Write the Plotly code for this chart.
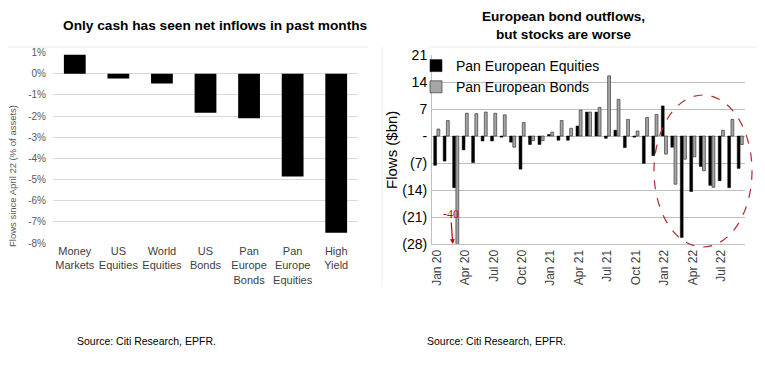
import plotly.graph_objects as go

W, H = 765, 367
OFF = 8  # page body offset applied by the browser

# ---------------- data ----------------
left_categories = ["Money<br>Markets", "US<br>Equities", "World<br>Equities", "US<br>Bonds",
                   "Pan<br>Europe<br>Bonds", "Pan<br>Europe<br>Equities", "High<br>Yield"]
left_values = [0.9, -0.22, -0.46, -1.84, -2.1, -4.85, -7.52]
left_tickvals = [1, 0, -1, -2, -3, -4, -5, -6, -7, -8]
left_ticktext = ["1%", "0%", "-1%", "-2%", "-3%", "-4%", "-5%", "-6%", "-7%", "-8%"]

months = ["Jan 20", "Feb 20", "Mar 20", "Apr 20", "May 20", "Jun 20", "Jul 20", "Aug 20",
          "Sep 20", "Oct 20", "Nov 20", "Dec 20", "Jan 21", "Feb 21", "Mar 21", "Apr 21",
          "May 21", "Jun 21", "Jul 21", "Aug 21", "Sep 21", "Oct 21", "Nov 21", "Dec 21",
          "Jan 22", "Feb 22", "Mar 22", "Apr 22", "May 22", "Jun 22", "Jul 22", "Aug 22",
          "Sep 22"]
equities = [-7.6, -6.5, -13.4, -3.6, -6.9, -1.3, -1.3, -0.3,
            -1.6, -8.6, -2.2, -2.2, 0.4, -1.1, -1.1, 2.6,
            6.2, 6.2, -0.6, 1.5, -3.0, -0.3, -7.1, -5.1,
            7.8, -2.9, -26.3, -14.4, -7.9, -12.8, -11.6, -13.4,
            -8.4]
bonds = [1.8, 4.0, -40.0, 5.9, 5.8, 6.2, 5.9, 5.5,
         -2.9, 3.5, -1.2, -1.2, 1.0, 4.0, 2.0, 6.7,
         6.2, 7.4, 15.6, 9.5, 4.3, 1.3, 4.8, 5.6,
         -4.7, -12.5, -6.0, -5.4, -9.0, -13.3, 1.5, 4.3,
         -2.2]
right_tickvals = [21, 14, 7, 0, -7, -14, -21, -28]
right_ticktext = ["21", "14", "7", "-", "(7)", "(14)", "(21)", "(28)"]
month_ticks = months[::3]

ARIAL = "Liberation Sans, Arial, sans-serif"


def px_x(p):
    return (p - OFF) / W


def px_y(p):
    return 1 - (p - OFF) / H


fig = go.Figure()

fig.add_trace(go.Bar(x=left_categories, y=left_values, width=0.5,
                     marker=dict(color="#000000", line=dict(width=0)),
                     showlegend=False, xaxis="x", yaxis="y"))

fig.add_trace(go.Bar(x=months, y=equities, name="Pan European Equities",
                     marker=dict(color="#000000", line=dict(color="#000000", width=0.5)),
                     legendgroup="eq", xaxis="x2", yaxis="y2"))
fig.add_trace(go.Bar(x=months, y=bonds, name="Pan European Bonds",
                     marker=dict(color="#a6a6a6", line=dict(color="#3a3a3a", width=0.7)),
                     legendgroup="bd", xaxis="x2", yaxis="y2"))

fig.update_layout(
    template="none",
    width=W, height=H, autosize=False,
    margin=dict(l=0, r=0, t=0, b=0, pad=0, autoexpand=False),
    paper_bgcolor="white", plot_bgcolor="white",
    barmode="group", bargap=0.32, bargroupgap=0.12,
    showlegend=True,
    legend=dict(x=px_x(416), y=px_y(50), xanchor="left", yanchor="top",
                bgcolor="rgba(0,0,0,0)", font=dict(family=ARIAL, size=14, color="#000000"),
                tracegroupgap=3, traceorder="normal"),
    xaxis=dict(domain=[px_x(53), px_x(358)], type="category", showgrid=False,
               showline=False, ticks="", zeroline=False, automargin=False,
               ticklabelstandoff=0,
               tickfont=dict(family=ARIAL, size=11, color="#404040")),
    yaxis=dict(domain=[px_y(243), px_y(52.7)], range=[-8, 1], tickvals=left_tickvals,
               ticktext=left_ticktext, showgrid=True, gridcolor="#d9d9d9", gridwidth=1,
               zeroline=False, showline=False, ticks="", ticklabelstandoff=6, automargin=False,
               tickfont=dict(family=ARIAL, size=10, color="#595959")),
    xaxis2=dict(domain=[px_x(432), px_x(745)], type="category", anchor="y2",
                tickvals=month_ticks, ticktext=month_ticks, tickangle=-90,
                showgrid=False, showline=True, linecolor="#bfbfbf", ticks="", automargin=False,
                tickfont=dict(family=ARIAL, size=12, color="#404040")),
    yaxis2=dict(domain=[px_y(244), px_y(55)], range=[-28, 21], anchor="x2",
                tickvals=right_tickvals, ticktext=right_ticktext,
                showgrid=True, gridcolor="#bfbfbf", gridwidth=1, zeroline=False,
                showline=True, linecolor="#bfbfbf", ticks="", ticklabelstandoff=1, automargin=False,
                tickfont=dict(family=ARIAL, size=14, color="#000000")),
)

annotations = [
    dict(text="<b>Only cash has seen net inflows in past months</b>", x=px_x(216), y=px_y(25),
         font=dict(family=ARIAL, size=13.7, color="#000000")),
    dict(text="<b>European bond outflows,<br>but stocks are worse</b>", x=px_x(563), y=px_y(25),
         font=dict(family=ARIAL, size=13.6, color="#000000")),
    dict(text="Flows since April 22 (% of assets)", x=px_x(12), y=px_y(176), textangle=-90,
         font=dict(family=ARIAL, size=9.5, color="#595959")),
    dict(text="Flows ($bn)", x=px_x(392), y=px_y(150), textangle=-90,
         font=dict(family=ARIAL, size=15, color="#000000")),
    dict(text="Source: Citi Research, EPFR.", x=px_x(75), y=px_y(341), xanchor="left",
         font=dict(family=ARIAL, size=10.5, color="#000000")),
    dict(text="Source: Citi Research, EPFR.", x=px_x(425), y=px_y(341), xanchor="left",
         font=dict(family=ARIAL, size=10.5, color="#000000")),
]
for a in annotations:
    a.setdefault("xref", "paper")
    a.setdefault("yref", "paper")
    a.setdefault("showarrow", False)
    a.setdefault("xanchor", "center")
    a.setdefault("yanchor", "middle")
fig.update_layout(annotations=annotations)

fig.add_annotation(x="Mar 20", y=-28, xref="x2", yref="y2", xshift=-3,
                   text="-40", showarrow=True, arrowhead=2, arrowsize=0.8, arrowwidth=1.2,
                   arrowcolor="#c00000", ax=-2, ay=-30, standoff=0,
                   font=dict(family="Liberation Serif, Times New Roman, serif", size=12,
                             color="#c00000"))

shapes = [
    dict(type="circle", xref="paper", yref="paper", x0=px_x(654), x1=px_x(752),
         y0=px_y(247), y1=px_y(95), line=dict(color="#b02a2a", width=1.2, dash="dash")),
    dict(type="line", xref="paper", yref="paper", x0=px_x(6), x1=px_x(6),
         y0=px_y(47), y1=px_y(287), line=dict(color="#ececec", width=1)),
    dict(type="line", xref="paper", yref="paper", x0=px_x(6), x1=px_x(368),
         y0=px_y(47), y1=px_y(47), line=dict(color="#ececec", width=1)),
    dict(type="line", xref="paper", yref="paper", x0=px_x(382), x1=px_x(382),
         y0=px_y(47), y1=px_y(287), line=dict(color="#ececec", width=1)),
    dict(type="line", xref="paper", yref="paper", x0=px_x(430), x1=px_x(765),
         y0=px_y(47), y1=px_y(47), line=dict(color="#ececec", width=1)),
]
fig.update_layout(shapes=shapes)

fig.write_html("out.html")
